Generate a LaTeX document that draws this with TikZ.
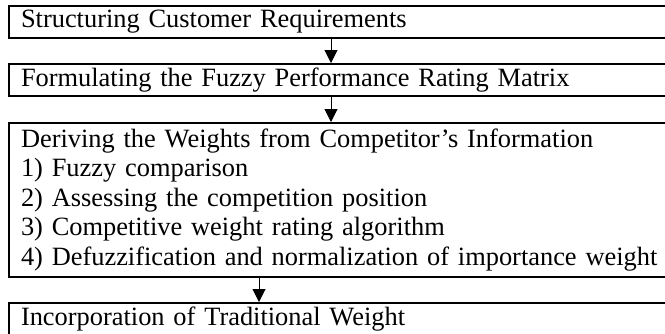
\documentclass[tikz,border=0pt]{standalone}
\usepackage{fontspec}
\setmainfont{Liberation Serif}
\usepackage{tikz}
\usetikzlibrary{arrows.meta}
\tikzset{>=stealth}
\tikzset{
	stagebox/.style={draw, line width=1pt, anchor=north west, minimum width=336pt, text width=324pt, align=left, inner xsep=6pt, inner ysep=0pt, minimum height=16pt, font=\fontsize{13.2}{14.75}\selectfont},
	flowarrow/.style={line width=0.5pt, -{Triangle[length=6.5pt,width=6.5pt]}}
}

\begin{document}
\begin{tikzpicture}[x=0.5pt,y=-0.5pt]
			\useasboundingbox (0,0) rectangle (665,333);
			\node [stagebox] (req) at (8,5) {Structuring Customer Requirements};
			\node [stagebox] (matrix) at (8,63) {Formulating the Fuzzy Performance Rating Matrix};
			\node [stagebox, minimum height=77pt] (weights) at (8,122) {Deriving the Weights from Competitor's Information\\
				1) Fuzzy comparison\\
				2) Assessing the competition position\\
				3) Competitive weight rating algorithm\\
				4) Defuzzification and normalization of importance weight};
			\node [stagebox] (trad) at (8,302) {Incorporation of Traditional Weight};
			\coordinate (upper) at (331,0);
			\coordinate (lower) at (259,0);
			\draw [flowarrow] (req.south -| upper) -- (matrix.north -| upper);
			\draw [flowarrow] (matrix.south -| upper) -- (weights.north -| upper);
			\draw [flowarrow] (weights.south -| lower) -- (trad.north -| lower);
		\end{tikzpicture}
\end{document}
